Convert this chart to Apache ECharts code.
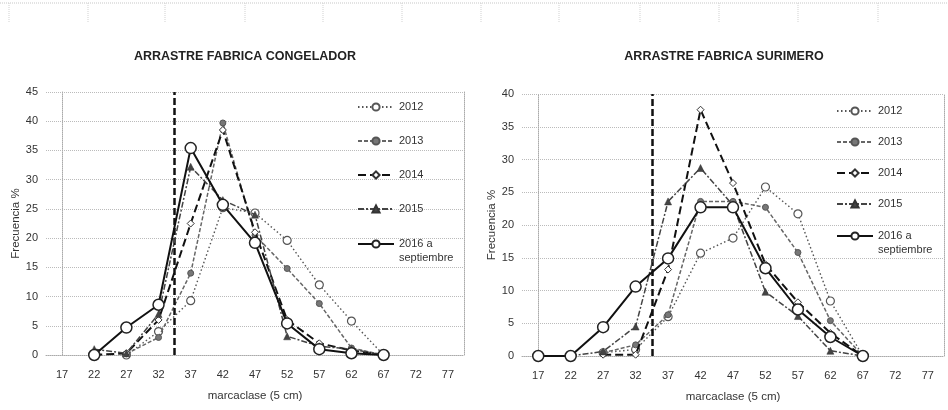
<!DOCTYPE html>
<html>
<head>
<meta charset="utf-8">
<script src="https://cdn.jsdelivr.net/npm/echarts@6/dist/echarts.min.js"></script>
<style>
html,body{margin:0;padding:0;background:#fff;}
#c{width:948px;height:410px;}
</style>
</head>
<body>
<div id="c"></div>
<script>
// ---- data ----
var categories = ['17','22','27','32','37','42','47','52','57','62','67','72','77'];
var seriesNames = ['2012','2013','2014','2015','2016 a\nseptiembre'];
var cutClass = 34.5; // vertical dashed reference (class mark)

// ARRASTRE FABRICA CONGELADOR
var cong2012 = [null, null, 0,   4.0, 9.3,  25.2, 24.3, 19.6, 12.0, 5.8, 0, null, null];
var cong2013 = [null, null, 0.2, 3.0, 14.0, 39.7, 20.5, 14.8, 8.8,  1.2, 0, null, null];
var cong2014 = [null, 0,    0.3, 6.0, 22.5, 38.5, 21.0, 6.0,  2.0,  0.8, 0, null, null];
var cong2015 = [null, 1.0,  0.3, 7.0, 32.2, 26.5, 24.0, 3.2,  1.5,  1.0, 0, null, null];
var cong2016 = [null, 0,    4.7, 8.6, 35.4, 25.7, 19.2, 5.4,  1.0,  0.3, 0, null, null];

// ARRASTRE FABRICA SURIMERO
var suri2012 = [null, null, 0.5, 1.0,  6.0,  15.7, 18.0, 25.8, 21.7, 8.4, 0, null, null];
var suri2013 = [null, null, 0.5, 1.7,  6.3,  23.6, 23.6, 22.7, 15.8, 5.4, 0, null, null];
var suri2014 = [null, null, 0.2, 0.2,  13.2, 37.6, 26.4, 14.0, 8.2,  3.5, 0, null, null];
var suri2015 = [null, 0,    0.7, 4.5,  23.6, 28.7, 23.0, 9.8,  6.1,  0.8, 0, null, null];
var suri2016 = [0,    0,    4.4, 10.6, 14.9, 22.7, 22.7, 13.4, 7.1,  2.9, 0, null, null];

var titles = ['ARRASTRE FABRICA CONGELADOR', 'ARRASTRE FABRICA SURIMERO'];
var xName = 'marcaclase (5 cm)';
var yName = 'Frecuencia %';

// ---- styles ----
var FONT = "'Liberation Sans', Arial, sans-serif";
var styles = [
  {line:{color:'#555', width:1.4, type:[1.5,2.5]}, symbol:'circle', size:8, item:{color:'#fff', borderColor:'#555', borderWidth:1.2}},
  {line:{color:'#666', width:1.5, type:[4,2]}, symbol:'circle', size:6, item:{color:'#777', borderColor:'#555', borderWidth:1}},
  {line:{color:'#111', width:2, type:[8,4]}, symbol:'diamond', size:7, item:{color:'#fff', borderColor:'#333', borderWidth:1}},
  {line:{color:'#444', width:1.5, type:[6,2,2,2]}, symbol:'triangle', size:7, item:{color:'#444', borderColor:'#333', borderWidth:0.5}},
  {line:{color:'#111', width:2}, symbol:'circle', size:11, item:{color:'#fff', borderColor:'#222', borderWidth:1.5}}
];

var chartData = [
  [cong2012, cong2013, cong2014, cong2015, cong2016],
  [suri2012, suri2013, suri2014, suri2015, suri2016]
];
var yMax = [45, 40];
var grids = [
  {left:46, top:92, width:418, height:263},
  {left:522, top:94, width:422, height:262}
];

var xAxes = [], yAxes = [], series = [];
var dotted = {color:'#aaa', type:'dotted', width:1};
var labelStyle = {color:'#333', fontSize:11, fontFamily:FONT};
for (var g = 0; g < 2; g++) {
  xAxes.push({
    type:'category', gridIndex:g, data:categories, boundaryGap:true,
    axisTick:{show:false}, axisLine:{lineStyle:dotted},
    axisLabel:Object.assign({margin:14}, labelStyle),
    name:xName, nameLocation:'middle', nameGap:35,
    nameTextStyle:{color:'#333', fontSize:11.5, fontFamily:FONT}
  });
  yAxes.push({
    type:'value', gridIndex:g, min:0, max:yMax[g], interval:5,
    axisLine:{show:true, lineStyle:dotted}, axisTick:{show:false},
    splitLine:{lineStyle:{color:'#bbb', type:'dotted', width:1}},
    axisLabel:Object.assign({margin:8}, labelStyle),
    name:yName, nameLocation:'middle', nameGap:19, nameRotate:90,
    nameTextStyle:{color:'#333', fontSize:11.5, fontFamily:FONT}
  });
}
for (var g2 = 0; g2 < 2; g2++) {
  xAxes.push({type:'value', gridIndex:g2, min:-0.5, max:categories.length - 0.5, show:false});
  yAxes.push({type:'value', gridIndex:g2, position:'right', min:0, max:yMax[g2], interval:5,
    axisLine:{show:true, lineStyle:dotted}, axisTick:{show:false}, axisLabel:{show:false}, splitLine:{show:false}});
}

var cutIndex = (cutClass - Number(categories[0])) / 5;

for (var c = 0; c < 2; c++) {
  for (var s = 0; s < 5; s++) {
    var st = styles[s];
    series.push({
      type:'line', name:seriesNames[s], xAxisIndex:c, yAxisIndex:c,
      data:chartData[c][s], symbol:st.symbol, symbolSize:st.size,
      showAllSymbol:true, lineStyle:st.line, itemStyle:st.item,
      z: 3 + s, animation:false
    });
  }
  series.push({
    type:'line', xAxisIndex:2 + c, yAxisIndex:c, data:[[cutIndex, 0]],
    symbol:'none', silent:true, z:10,
    markLine:{silent:true, symbol:'none', label:{show:false},
      lineStyle:{color:'#111', type:[7,3], width:2.5},
      data:[{xAxis:cutIndex}]}
  });
}

function legendCfg(left, top, gap, names) {
  return {
    orient:'vertical', left:left, top:top, itemWidth:36, itemHeight:9, itemGap:gap,
    selectedMode:false,
    textStyle:{color:'#333', fontSize:11, fontFamily:FONT, lineHeight:14},
    formatter:function (name) {
      return name.indexOf('\n') >= 0 ? ' \n' + name : name;
    },
    data:names
  };
}
var firstFour = seriesNames.slice(0, 4);
var lastOne = seriesNames.slice(4);

// faint scan ruler at top
var rulerX = [9, 88, 165, 245, 323, 402, 481, 559, 640, 719, 798, 878];
var graphics = [{type:'line', shape:{x1:0, y1:3, x2:948, y2:3}, style:{stroke:'#c8c8c8', lineWidth:1, lineDash:[1,1]}, silent:true}];
rulerX.forEach(function (x) {
  graphics.push({type:'line', shape:{x1:x, y1:3, x2:x, y2:22}, style:{stroke:'#d0d0d0', lineWidth:1, lineDash:[1,1]}, silent:true});
});
graphics.push({type:'text', x:245, y:57, style:{text:titles[0], textAlign:'center', textVerticalAlign:'middle', fill:'#222', font:'bold 12.5px ' + FONT}});
graphics.push({type:'text', x:724, y:57, style:{text:titles[1], textAlign:'center', textVerticalAlign:'middle', fill:'#222', font:'bold 12.5px ' + FONT}});

var chart = echarts.init(document.getElementById('c'), null, {renderer:'canvas'});
chart.setOption({
  animation:false,
  backgroundColor:'#fff',
  grid:grids,
  xAxis:xAxes,
  yAxis:yAxes,
  legend:[
    legendCfg(352, 95, 20, firstFour), legendCfg(352, 218, 20, lastOne),
    legendCfg(831, 99, 17, firstFour), legendCfg(831, 210, 17, lastOne)
  ],
  graphic:graphics,
  series:series
});
</script>
</body>
</html>
